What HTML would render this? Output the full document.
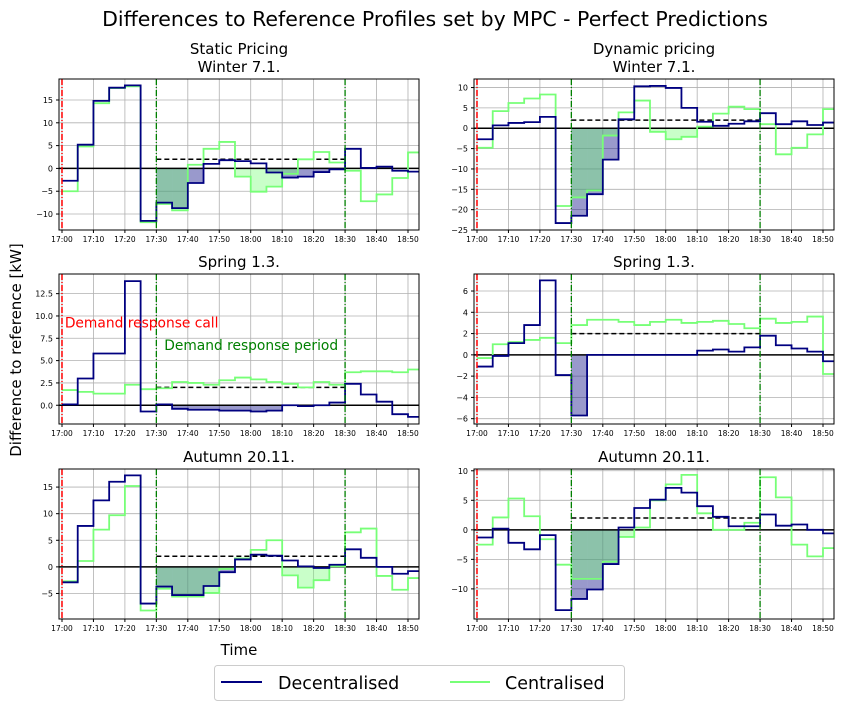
<!DOCTYPE html>
<html><head><meta charset="utf-8"><style>
html,body{margin:0;padding:0;background:#fff;}
svg{display:block;font-family:"DejaVu Sans","Liberation Sans",sans-serif;}
</style></head><body>
<svg id="fig" width="847" height="710" viewBox="0 0 847 710" xmlns="http://www.w3.org/2000/svg">
<text x="435" y="26" font-size="20.5" text-anchor="middle">Differences to Reference Profiles set by MPC - Perfect Predictions</text>
<text x="239" y="54" font-size="15" text-anchor="middle">Static Pricing</text>
<text x="654" y="54" font-size="15" text-anchor="middle">Dynamic pricing</text>
<text x="21" y="350" font-size="15" text-anchor="middle" transform="rotate(-90 21 350)">Difference to reference [kW]</text>
<text x="239" y="655" font-size="15" text-anchor="middle">Time</text>
<g>
<rect x="214.5" y="665.5" width="410" height="35" rx="3" fill="#fff" stroke="#ccc"/>
<line x1="221" y1="682" x2="262" y2="682" stroke="#000080" stroke-width="2"/>
<text x="278" y="689" font-size="17.5">Decentralised</text>
<line x1="450" y1="682" x2="490" y2="682" stroke="#77ff77" stroke-width="2"/>
<text x="505" y="689" font-size="17.5">Centralised</text>
</g>
</svg>
<script>
const categories = ["17:00","17:05","17:10","17:15","17:20","17:25","17:30","17:35","17:40","17:45","17:50","17:55","18:00","18:05","18:10","18:15","18:20","18:25","18:30","18:35","18:40","18:45","18:50"];
const xTickLabels = ["17:00","17:10","17:20","17:30","17:40","17:50","18:00","18:10","18:20","18:30","18:40","18:50"];
const reference = 2;
const decWinterStatic = [-2.7,5.2,14.8,17.7,18.2,-11.5,-7.5,-8.7,-3.2,1.0,1.8,1.6,1.1,-0.9,-2.0,-1.8,-0.8,-0.2,4.3,0.1,0.4,-0.5,-0.7];
const cenWinterStatic = [-5,4.8,14.3,17.6,18.0,-11.8,-7.8,-9.2,0.8,4.3,5.8,-1.8,-5.1,-4.0,-1.2,2.0,3.6,1.3,-0.5,-7.2,-5.7,-2.1,3.5];
const decWinterDynamic = [-2.7,0.7,1.3,1.5,2.8,-23.3,-21.5,-16.2,-7.7,2.2,10.3,10.4,9.9,5.0,1.6,0.6,1.1,1.7,3.7,1.0,1.7,0.8,1.4];
const cenWinterDynamic = [-4.8,4.2,6.2,7.3,8.3,-19.1,-17.0,-15.3,-1.8,3.9,6.8,-0.9,-2.7,-2.1,0.4,3.6,5.3,4.7,1.0,-6.4,-4.8,-1.5,4.7];
const decSpringStatic = [0.1,3.0,5.8,5.8,13.9,-0.7,0.1,-0.4,-0.5,-0.5,-0.6,-0.6,-0.7,-0.6,0.0,-0.1,0.0,0.3,2.4,1.2,0.4,-1.0,-1.3];
const cenSpringStatic = [1.7,1.5,1.3,1.3,2.3,1.8,1.9,2.6,2.5,2.3,2.8,3.1,2.9,2.6,2.4,2.0,2.6,2.3,3.7,3.8,3.8,3.7,4.0];
const decSpringDynamic = [-1.1,-0.1,1.1,2.8,7.0,-1.9,-5.7,0,0,0,0,0,0,0,0.4,0.5,0.3,0.7,1.8,0.9,0.6,0.3,-0.6];
const cenSpringDynamic = [-0.3,1.0,1.2,1.4,1.6,1.1,2.8,3.3,3.3,3.1,2.8,3.1,3.3,3.0,3.1,3.2,2.9,2.5,3.4,3.0,3.1,3.6,-1.8];
const decAutumnStatic = [-2.9,7.7,12.5,16.0,17.2,-6.9,-3.7,-5.3,-5.3,-3.6,-1.0,1.4,2.3,2.1,1.2,0.1,-0.2,0.4,3.3,1.7,0.0,-1.3,-0.8];
const cenAutumnStatic = [-2.7,1.1,7.0,9.7,15.2,-8.2,-4.1,-5.6,-5.6,-4.9,-0.4,1.6,3.2,5.0,-1.6,-3.9,-2.5,0.1,6.5,7.2,-1.7,-4.3,-2.1];
const decAutumnDynamic = [-1.3,0.2,-2.2,-3.3,-0.9,-13.6,-11.7,-10.1,-5.8,0.4,3.7,5.1,7.1,6.3,4.0,2.2,0.6,0.6,2.6,0.7,0.9,0.0,-0.6];
const cenAutumnDynamic = [-2.5,2.1,5.3,2.3,-1.6,-5.9,-8.3,-8.3,-5.4,-1.2,0.4,5.0,7.7,9.3,2.8,0.0,0.0,1.2,8.9,5.5,-2.5,-4.5,-3.1];
const yTicksWS = [-10,-5,0,5,10,15];
const yTicksWD = [-25,-20,-15,-10,-5,0,5,10];
const yTicksSS = [0,2.5,5,7.5,10,12.5];
const yTicksSD = [-6,-4,-2,0,2,4,6];
const yTicksAS = [-5,0,5,10,15];
const yTicksAD = [-10,-5,0,5,10];

const NS="http://www.w3.org/2000/svg";
const fig=document.getElementById('fig');
function mk(tag,attrs,parent){const e=document.createElementNS(NS,tag);for(const k in attrs)e.setAttribute(k,attrs[k]);(parent||fig).appendChild(e);return e;}
function toMin(s){const p=s.split(':');return (+p[0]-17)*60+(+p[1]);}

const panels=[
 {name:'winter-static',x0:59,x1:419,y0:79,y1:230,ymin:-13.5,ymax:19.6,dec:decWinterStatic,cen:cenWinterStatic,ticks:yTicksWS,title:'Winter 7.1.',fmt:0},
 {name:'winter-dynamic',x0:474,x1:834,y0:79,y1:230,ymin:-25,ymax:12.1,dec:decWinterDynamic,cen:cenWinterDynamic,ticks:yTicksWD,title:'Winter 7.1.',fmt:0},
 {name:'spring-static',x0:59,x1:419,y0:274,y1:424,ymin:-2.1,ymax:14.7,dec:decSpringStatic,cen:cenSpringStatic,ticks:yTicksSS,title:'Spring 1.3.',fmt:1},
 {name:'spring-dynamic',x0:474,x1:834,y0:274,y1:424,ymin:-6.5,ymax:7.6,dec:decSpringDynamic,cen:cenSpringDynamic,ticks:yTicksSD,title:'Spring 1.3.',fmt:0},
 {name:'autumn-static',x0:59,x1:419,y0:469,y1:619,ymin:-9.8,ymax:18.4,dec:decAutumnStatic,cen:cenAutumnStatic,ticks:yTicksAS,title:'Autumn 20.11.',fmt:0},
 {name:'autumn-dynamic',x0:474,x1:834,y0:469,y1:619,ymin:-15.1,ymax:10.3,dec:decAutumnDynamic,cen:cenAutumnDynamic,ticks:yTicksAD,title:'Autumn 20.11.',fmt:0},
];
const XMIN=-0.95,XMAX=113.5;

panels.forEach(p=>{
 const g=mk('g',{});
 
 
 const X=m=>p.x0+(m-XMIN)/(XMAX-XMIN)*(p.x1-p.x0);
 const Y=v=>p.y1-(v-p.ymin)/(p.ymax-p.ymin)*(p.y1-p.y0);
 const cx=(p.x0+p.x1)/2;
 const t=mk('text',{x:cx,y:p.y0-7,'font-size':15,'text-anchor':'middle'},g);
 t.textContent=p.title;
 
 
 const clipId='clip-'+p.name;
 const cp=mk('clipPath',{id:clipId},g);
 mk('rect',{x:p.x0,y:p.y0,width:p.x1-p.x0,height:p.y1-p.y0},cp);
 const inner=mk('g',{'clip-path':'url(#'+clipId+')'},g);
 xTickLabels.forEach(l=>{const x=X(toMin(l));mk('line',{x1:x,x2:x,y1:p.y0,y2:p.y1,stroke:'#b0b0b0','stroke-width':0.8},inner);});
 p.ticks.forEach(v=>{const y=Y(v);mk('line',{x1:p.x0,x2:p.x1,y1:y,y2:y,stroke:'#b0b0b0','stroke-width':0.8},inner);});
 function fills(arr,color,op,nm){
  categories.forEach((c,i)=>{const m=toMin(c);if(m>=30&&m<90&&arr[i]<0){
   const r=mk('rect',{x:X(m),y:Y(0),width:X(m+5)-X(m),height:Y(arr[i])-Y(0),fill:color,'fill-opacity':op},inner);
   
   
  }});
 }
 fills(p.dec,'#000080',0.4,'fill-decentralised');
 fills(p.cen,'#77ff77',0.4,'fill-centralised');
 mk('line',{x1:p.x0,x2:p.x1,y1:Y(0),y2:Y(0),stroke:'#000','stroke-width':1.5},inner);
 mk('line',{x1:X(30),x2:X(90),y1:Y(reference),y2:Y(reference),stroke:'#000','stroke-width':1.5,'stroke-dasharray':'5,3'},inner);
 function step(arr,color,nm){
  let d='';categories.forEach((c,i)=>{const m=toMin(c);d+=(i?'L':'M')+X(m)+','+Y(arr[i])+'L'+X(m+5)+','+Y(arr[i]);});
  const pa=mk('path',{d:d,fill:'none',stroke:color,'stroke-width':1.8},inner);
  
  
 }
 step(p.cen,'#77ff77','line-centralised');
 step(p.dec,'#000080','line-decentralised');
 mk('line',{x1:X(0),x2:X(0),y1:p.y0,y2:p.y1,stroke:'#ff0000','stroke-width':1.5,'stroke-dasharray':'6,2,1,2'},inner);
 [30,90].forEach(m=>mk('line',{x1:X(m),x2:X(m),y1:p.y0,y2:p.y1,stroke:'#008000','stroke-width':1.3,'stroke-dasharray':'6,2,1,2'},inner));
 mk('rect',{x:p.x0,y:p.y0,width:p.x1-p.x0,height:p.y1-p.y0,fill:'none',stroke:'#000','stroke-width':1},g);
 xTickLabels.forEach(l=>{const x=X(toMin(l));mk('line',{x1:x,x2:x,y1:p.y1,y2:p.y1+3,stroke:'#000'},g);
  const tx=mk('text',{x:x,y:p.y1+12,'font-size':7.5,'text-anchor':'middle'},g);tx.textContent=l;
  
  });
 p.ticks.forEach(v=>{const y=Y(v);mk('line',{x1:p.x0-3,x2:p.x0,y1:y,y2:y,stroke:'#000'},g);
  const ty=mk('text',{x:p.x0-6,y:y+3,'font-size':8,'text-anchor':'end'},g);
  ty.textContent=(v<0?'\u2212':'')+Math.abs(v).toFixed(p.fmt);
  
  });
 if(p.name==='spring-static'){
  const a=mk('text',{x:X(0.9),y:Y(8.7),'font-size':13.8,fill:'#ff0000'},g);a.textContent='Demand response call';
  
  
  const b=mk('text',{x:X(32.5),y:Y(6.2),'font-size':13.8,fill:'#008000'},g);b.textContent='Demand response period';
  
  
 }
});
</script>
</body></html>
